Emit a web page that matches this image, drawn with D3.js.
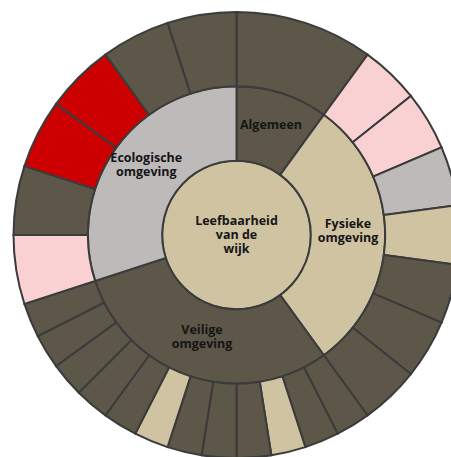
<!DOCTYPE html>
<html>
<head>
<meta charset="utf-8">
<script src="https://cdn.jsdelivr.net/npm/d3@7"></script>
<style>
  html, body { margin: 0; padding: 0; background: #fff; }
  svg { display: block; }
  .lbl { font-family: "Open Sans", sans-serif; font-weight: 700; font-size: 12.5px; fill: #151515; }
</style>
</head>
<body>
<div id="chart"></div>
<script>
// centre label
var rootLabel = "Leefbaarheid van de wijk";

// ring 1: the four themes, in clockwise order from the top
var themes = ["Algemeen", "Fysieke omgeving", "Veilige omgeving", "Ecologische omgeving"];
var themeLines = [["Algemeen"], ["Fysieke", "omgeving"], ["Veilige", "omgeving"], ["Ecologische", "omgeving"]];
var themeStatus = ["donker", "beige", "donker", "grijs"];

// ring 2: the indicators per theme (status + share of the circle)
var algemeenStatus = ["donker"];
var algemeenShare = [36];
var fysiekStatus = ["roze", "roze", "grijs", "beige", "donker", "donker", "donker"];
var fysiekShare = [15.43, 15.43, 15.43, 15.43, 15.43, 15.43, 15.43];
var veiligStatus = ["donker", "donker", "beige", "donker", "donker", "donker",
                    "beige", "donker", "donker", "donker", "donker", "donker"];
var veiligShare = [9, 9, 9, 9, 9, 9, 9, 9, 9, 9, 9, 9];
var ecoStatus = ["roze", "donker", "rood", "rood", "donker", "donker"];
var ecoShare = [18, 18, 18, 18, 18, 18];

var statusColor = {
  donker: "#5c5748",
  beige: "#d0c3a2",
  grijs: "#bebab9",
  roze: "#f9d1d3",
  rood: "#cc0000"
};

var leafStatus = [algemeenStatus, fysiekStatus, veiligStatus, ecoStatus];
var leafShare = [algemeenShare, fysiekShare, veiligShare, ecoShare];

var width = 451, height = 457;
var cx = 236.5, cy = 235;
var radius = 223;

var tree = {
  name: rootLabel, lines: ["Leefbaarheid", "van de", "wijk"], status: "beige",
  children: themes.map(function(t, i) {
    return {
      name: t, lines: themeLines[i], status: themeStatus[i],
      children: leafStatus[i].map(function(s, j) {
        return { name: t + " " + (j + 1), status: s, value: leafShare[i][j] };
      })
    };
  })
};

var root = d3.hierarchy(tree).sum(function(d) { return d.value || 0; });
d3.partition().size([2 * Math.PI, 3])(root);

var r = d3.scaleLinear().domain([0, 3]).range([0, radius]);

var arc = d3.arc()
  .startAngle(function(d) { return d.x0; })
  .endAngle(function(d) { return d.x1; })
  .innerRadius(function(d) { return r(d.y0); })
  .outerRadius(function(d) { return r(d.y1); });

var svg = d3.select("#chart")
  .append("svg")
    .attr("width", width)
    .attr("height", height)
  .append("g")
    .attr("transform", `translate(${cx},${cy})`);

// centre disc
svg.append("circle")
  .attr("r", r(1))
  .attr("fill", statusColor[root.data.status])
  .attr("stroke", "#3b3b3b")
  .attr("stroke-width", 2);

svg.selectAll("path")
  .data(root.descendants().filter(d => d.depth > 0))
  .join("path")
    .attr("d", arc)
    .attr("fill", d => statusColor[d.data.status])
    .attr("stroke", "#3b3b3b")
    .attr("stroke-width", 2);

// labels for the centre and the themes
var labelled = root.descendants().filter(d => d.depth < 2);
var labels = svg.selectAll("text.lbl")
  .data(labelled)
  .join("text")
    .attr("class", "lbl")
    .attr("text-anchor", "middle")
    .attr("transform", d => {
      var c = d.depth === 0 ? [0, 0] : arc.centroid(d);
      return `translate(${c[0]},${c[1]})`;
    });

labels.selectAll("tspan")
  .data(d => d.data.lines.map((l, i, a) => ({ text: l, i: i, n: a.length })))
  .join("tspan")
    .attr("x", 0)
    .attr("y", d => (d.i - (d.n - 1) / 2) * 14 + (d.n === 3 ? 4 : 0))
    .text(d => d.text);
</script>
</body>
</html>
